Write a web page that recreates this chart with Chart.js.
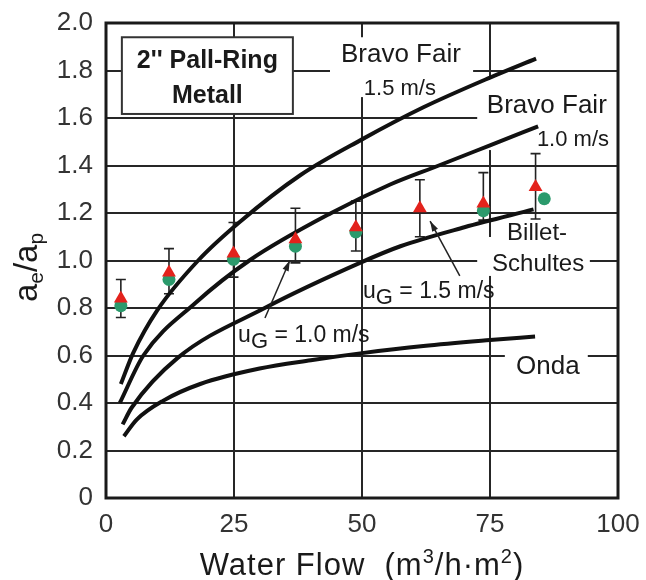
<!DOCTYPE html>
<html lang="en">
<head>
<meta charset="UTF-8">
<title>Pall-Ring ae/ap</title>
<script src="https://cdn.jsdelivr.net/npm/chart.js"></script>
<style>
  body { margin: 0; background: #fff; }
  #wrap { width: 646px; height: 580px; }
</style>
</head>
<body>
<div id="wrap"><canvas id="myChart"></canvas></div>
<script>
// measured points (water flow m3/h.m2)
const flowTri   = [2.9, 12.3, 24.9, 37, 48.8, 61.3, 73.7, 83.9];
const aeTri     = [0.84, 0.95, 1.03, 1.09, 1.14, 1.22, 1.24, 1.31];
const flowCirc  = [2.9, 12.3, 24.9, 37, 48.8, 61.3, 73.7, 85.6];
const aeCirc    = [0.81, 0.92, 1.005, 1.06, 1.12, null, 1.21, 1.26];
const errLow    = [0.76, 0.86, 0.93, 0.99, 1.04, 1.10, 1.17, 1.175];
const errHigh   = [0.92, 1.05, 1.16, 1.22, 1.25, 1.34, 1.37, 1.45];

// model curves
const bf15X = [2.9, 5.3, 10, 18, 26, 38, 50, 62, 75, 84];
const bf15Y = [0.48, 0.61, 0.79, 1.0, 1.16, 1.36, 1.51, 1.645, 1.77, 1.85];
const bf10X = [2.7, 7.3, 17.4, 28, 44, 55.5, 65, 75, 84.4];
const bf10Y = [0.40, 0.6, 0.82, 1.0, 1.2, 1.32, 1.40, 1.485, 1.565];
const bsX   = [3.25, 5, 14, 31, 49.6, 57.5, 70, 83.5];
const bsY   = [0.31, 0.38, 0.59, 0.8, 0.99, 1.06, 1.14, 1.215];
const ondaX = [3.5, 6, 11.2, 18.4, 30, 40, 50, 62, 75, 83.8];
const ondaY = [0.26, 0.33, 0.41, 0.48, 0.545, 0.58, 0.61, 0.64, 0.665, 0.68];

const xTicks = [0, 25, 50, 75, 100];
const yTicks = [0, 0.2, 0.4, 0.6, 0.8, 1.0, 1.2, 1.4, 1.6, 1.8, 2.0];

const FONT = '"Liberation Sans", Arial, sans-serif';
const INK = '#1a1a1a';

function pts(xs, ys) {
    var out = [];
    for (var i = 0; i < xs.length; i++) {
        if (ys[i] !== null) out.push({x: xs[i], y: ys[i]});
    }
    return out;
}

function curve(label, xs, ys) {
    return {
        type: 'line', label: label, data: pts(xs, ys),
        borderColor: '#111', borderWidth: 4, pointRadius: 0,
        cubicInterpolationMode: 'monotone', fill: false, order: 3
    };
}

// text made of runs: {t, size, bold, dy}
function runsWidth(ctx, runs) {
    var w = 0;
    runs.forEach(function(r) {
        ctx.font = (r.bold ? 'bold ' : '') + r.size + 'px ' + FONT;
        w += ctx.measureText(r.t).width;
    });
    return w;
}
function drawRuns(ctx, runs, x, y, align) {
    var w = runsWidth(ctx, runs);
    var cx = align === 'center' ? x - w / 2 : x;
    ctx.textAlign = 'left';
    ctx.textBaseline = 'alphabetic';
    ctx.fillStyle = INK;
    runs.forEach(function(r) {
        ctx.font = (r.bold ? 'bold ' : '') + r.size + 'px ' + FONT;
        ctx.fillText(r.t, cx, y + (r.dy || 0));
        cx += ctx.measureText(r.t).width;
    });
}

// white label backgrounds (data coords: x1, x2, yTop, yBottom)
const labelBoxes = [
    [43.75, 71.7, 1.94, 1.688],
    [72.5, 100, 1.773, 1.465],
    [77.9, 90.6, 1.171, 1.078],
    [72.5, 94.5, 1.099, 0.935],
    [77.9, 94.1, 0.636, 0.484]
];

const annotations = {
    id: 'annotations',
    beforeDatasetsDraw: function(chart) {
        var ctx = chart.ctx, xs = chart.scales.x, ys = chart.scales.y;
        ctx.save();
        ctx.fillStyle = '#fff';
        labelBoxes.forEach(function(b) {
            var l = xs.getPixelForValue(b[0]), r = xs.getPixelForValue(b[1]);
            var t = ys.getPixelForValue(b[2]), bt = ys.getPixelForValue(b[3]);
            ctx.fillRect(l, t, r - l, bt - t);
        });

        // title box
        var l = xs.getPixelForValue(3.1), r = xs.getPixelForValue(36.5);
        var t = ys.getPixelForValue(1.94), bt = ys.getPixelForValue(1.617);
        ctx.fillRect(l, t, r - l, bt - t);
        ctx.strokeStyle = '#333';
        ctx.lineWidth = 2;
        ctx.strokeRect(l, t, r - l, bt - t);
        var cx = xs.getPixelForValue(19.8);
        drawRuns(ctx, [{t: '2\'\' Pall-Ring', size: 25, bold: true}], cx, ys.getPixelForValue(1.848) + 9, 'center');
        drawRuns(ctx, [{t: 'Metall', size: 25, bold: true}], cx, ys.getPixelForValue(1.701) + 9, 'center');

        function lab(s, size, x, y) {
            drawRuns(ctx, [{t: s, size: size}], xs.getPixelForValue(x), ys.getPixelForValue(y) + size * 0.36, 'center');
        }
        lab('Bravo Fair', 26, 57.6, 1.874);
        lab('1.5 m/s', 22, 57.4, 1.73);
        lab('Bravo Fair', 26, 86.1, 1.659);
        lab('1.0 m/s', 22, 91.2, 1.516);
        lab('Billet-', 24, 84.2, 1.124);
        lab('Schultes', 24, 84.4, 0.994);
        lab('Onda', 26, 86.3, 0.56);

        var ug15 = [{t: 'u', size: 23}, {t: 'G', size: 22, dy: 6}, {t: ' = 1.5 m/s', size: 23}];
        var ug10 = [{t: 'u', size: 23}, {t: 'G', size: 22, dy: 6}, {t: ' = 1.0 m/s', size: 23}];
        drawRuns(ctx, ug15, xs.getPixelForValue(50.2), ys.getPixelForValue(0.842), 'left');
        drawRuns(ctx, ug10, xs.getPixelForValue(25.8), ys.getPixelForValue(0.657), 'left');

        // error bars
        ctx.strokeStyle = '#222';
        ctx.lineWidth = 1.6;
        for (var i = 0; i < flowTri.length; i++) {
            var px = xs.getPixelForValue(flowTri[i]);
            var y1 = ys.getPixelForValue(errLow[i]), y2 = ys.getPixelForValue(errHigh[i]);
            ctx.beginPath();
            ctx.moveTo(px, y1); ctx.lineTo(px, y2);
            ctx.moveTo(px - 5, y1); ctx.lineTo(px + 5, y1);
            ctx.moveTo(px - 5, y2); ctx.lineTo(px + 5, y2);
            ctx.stroke();
        }
        ctx.restore();
    },
    afterDatasetsDraw: function(chart) {
        var ctx = chart.ctx, xs = chart.scales.x, ys = chart.scales.y;
        var a = chart.chartArea;
        ctx.save();
        // arrows: from label to point
        function arrow(x0, y0, x1, y1) {
            var p0x = xs.getPixelForValue(x0), p0y = ys.getPixelForValue(y0);
            var p1x = xs.getPixelForValue(x1), p1y = ys.getPixelForValue(y1);
            var ang = Math.atan2(p1y - p0y, p1x - p0x);
            ctx.strokeStyle = '#222'; ctx.fillStyle = '#222'; ctx.lineWidth = 1.5;
            ctx.beginPath(); ctx.moveTo(p0x, p0y); ctx.lineTo(p1x, p1y); ctx.stroke();
            ctx.beginPath();
            ctx.moveTo(p1x, p1y);
            ctx.lineTo(p1x - 11 * Math.cos(ang - 0.3), p1y - 11 * Math.sin(ang - 0.3));
            ctx.lineTo(p1x - 11 * Math.cos(ang + 0.3), p1y - 11 * Math.sin(ang + 0.3));
            ctx.closePath(); ctx.fill();
        }
        arrow(31.05, 0.758, 35.9, 1.0);
        arrow(69.1, 0.935, 63.3, 1.166);

        // frame
        ctx.strokeStyle = INK;
        ctx.lineWidth = 3;
        ctx.strokeRect(a.left, a.top, a.right - a.left, a.bottom - a.top);

        // axis titles
        ctx.letterSpacing = '1px';
        drawRuns(ctx, [
            {t: 'Water Flow  (m', size: 31},
            {t: '3', size: 20, dy: -12},
            {t: '/h\u00b7m', size: 31},
            {t: '2', size: 20, dy: -12},
            {t: ')', size: 31}
        ], (a.left + a.right) / 2, 575, 'center');
        ctx.letterSpacing = '0px';

        ctx.translate(37, (a.top + a.bottom) / 2 + 7);
        ctx.rotate(-Math.PI / 2);
        drawRuns(ctx, [
            {t: 'a', size: 33}, {t: 'e', size: 21, dy: 6},
            {t: '/a', size: 33}, {t: 'p', size: 21, dy: 6}
        ], 0, 0, 'center');
        ctx.restore();
    }
};

const ctx = document.getElementById('myChart').getContext('2d');
const myChart = new Chart(ctx, {
    type: 'scatter',
    data: {
        datasets: [
            {
                label: 'uG 1.5', data: pts(flowTri, aeTri),
                pointStyle: 'triangle', pointRadius: 8, pointHoverRadius: 8,
                backgroundColor: '#e3221c', borderColor: '#e3221c', borderWidth: 0, order: 1
            },
            {
                label: 'uG 1.0', data: pts(flowCirc, aeCirc),
                pointStyle: 'circle', pointRadius: 6.5, pointHoverRadius: 6.5,
                backgroundColor: '#2b9a6c', borderColor: '#2b9a6c', borderWidth: 0, order: 2
            },
            curve('Bravo Fair 1.5 m/s', bf15X, bf15Y),
            curve('Bravo Fair 1.0 m/s', bf10X, bf10Y),
            curve('Billet-Schultes', bsX, bsY),
            curve('Onda', ondaX, ondaY)
        ]
    },
    options: {
        responsive: true,
        maintainAspectRatio: false,
        animation: false,
        layout: { padding: { top: 23, right: 28, left: 0, bottom: 0 } },
        plugins: { legend: { display: false }, tooltip: { enabled: false } },
        scales: {
            x: {
                type: 'linear', min: 0, max: 100,
                afterFit: function(s) { s.height = 82; s.paddingLeft = 0; s.paddingRight = 0; },
                afterBuildTicks: function(s) { s.ticks = xTicks.map(function(v) { return {value: v}; }); },
                grid: { color: '#262626', lineWidth: 2, drawTicks: false },
                border: { display: false },
                ticks: { color: '#333', padding: 11, font: { size: 26, family: FONT } }
            },
            y: {
                type: 'linear', min: 0, max: 2,
                afterFit: function(s) { s.width = 106; s.paddingTop = 0; s.paddingBottom = 0; },
                afterBuildTicks: function(s) { s.ticks = yTicks.map(function(v) { return {value: v}; }); },
                grid: { color: '#262626', lineWidth: 2, drawTicks: false },
                border: { display: false },
                ticks: {
                    color: '#333', padding: 13, font: { size: 26, family: FONT },
                    callback: function(v) { return v === 0 ? '0' : v.toFixed(1); }
                }
            }
        }
    },
    plugins: [annotations]
});
</script>
</body>
</html>
